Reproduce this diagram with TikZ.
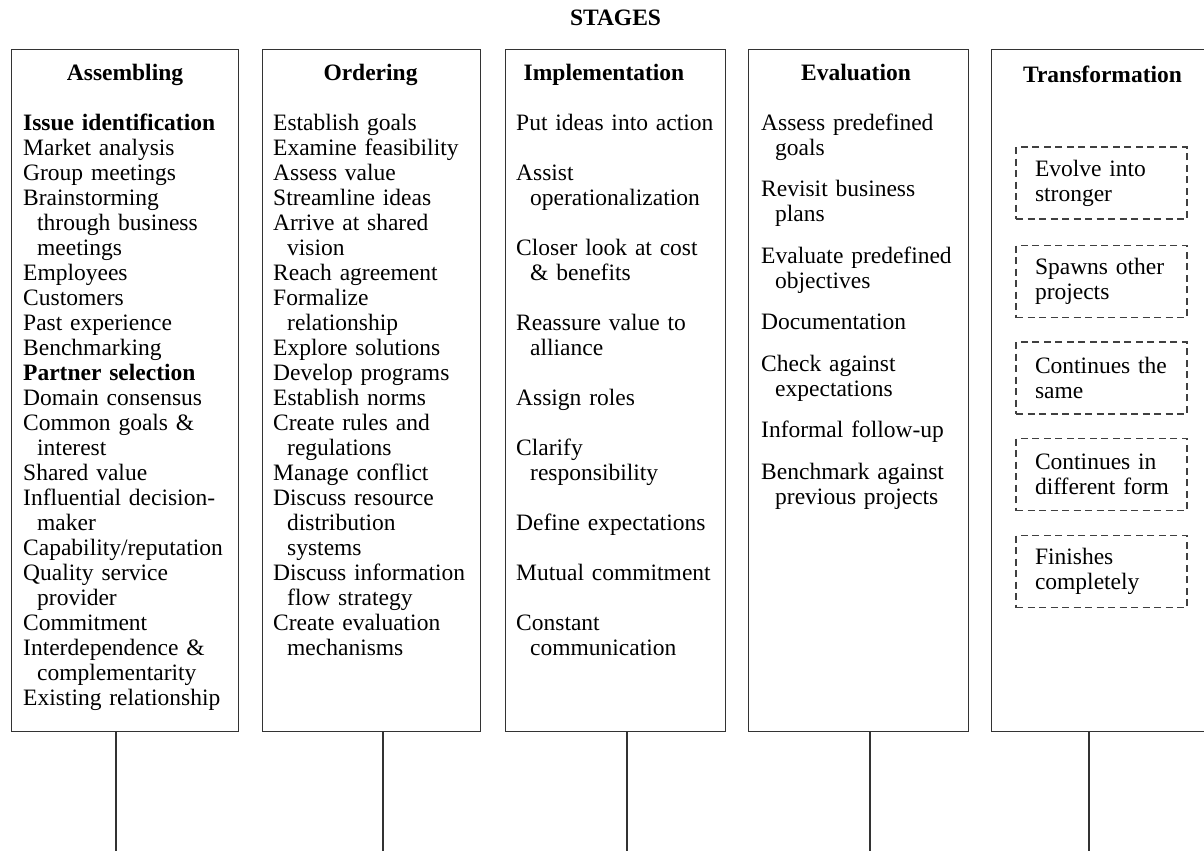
\documentclass[tikz,border=0pt]{standalone}
\usepackage{fontspec}
\setmainfont{Liberation Serif}
\usetikzlibrary{positioning}

\tikzset{
  stagebox/.style={draw=black!80, line width=1.4pt, inner sep=0pt, anchor=north west},
  stagehead/.style={font=\fontsize{23.5}{25}\selectfont\bfseries, anchor=base, inner sep=0pt},
  stagelist/.style={font=\fontsize{23.5}{25}\selectfont, anchor=base west, align=left,
    inner sep=0pt, text width=#1},
  outcome/.style={draw=black!75, line width=1.3pt, dash pattern=on 7pt off 4.5pt,
    font=\fontsize{23.5}{25}\selectfont, align=left, text width=133pt,
    inner xsep=19pt, inner ysep=0pt, minimum height=72pt},
  stem/.style={draw=black!80, line width=1.4pt}
}
\newcommand{\subind}{\hspace*{14pt}}

\begin{document}
\begin{tikzpicture}[x=1pt,y=-1pt]
\clip (0,0) rectangle (1204,851);

% Title
\node[stagehead] (title) at (615.5,26) {STAGES};

% Stage frames
\node[stagebox, minimum width=227pt, minimum height=682pt] (assembling) at (11,49) {};
\node[stagebox, minimum width=218pt, minimum height=682pt] (ordering) at (262,49) {};
\node[stagebox, minimum width=220pt, minimum height=682pt] (implementation) at (505,49) {};
\node[stagebox, minimum width=220pt, minimum height=682pt] (evaluation) at (748,49) {};
\node[stagebox, minimum width=230pt, minimum height=682pt] (transformation) at (991,49) {};

% Headings
\node[stagehead] (h1) at (125,81) {Assembling};
\node[stagehead] (h2) at (370.5,81) {Ordering};
\node[stagehead] (h3) at (604,81) {Implementation};
\node[stagehead] (h4) at (856,81) {Evaluation};
\node[stagehead] (h5) at (1102.5,82) {Transformation};

% Assembling
\node[stagelist=212pt] (list1) at (23,130) {\textbf{Issue identification}\\
Market analysis\\
Group meetings\\
Brainstorming\\
\subind through business\\
\subind meetings\\
Employees\\
Customers\\
Past experience\\
Benchmarking\\
\textbf{Partner selection}\\
Domain consensus\\
Common goals \&\\
\subind interest\\
Shared value\\
Influential decision-\\
\subind maker\\
Capability/reputation\\
Quality service\\
\subind provider\\
Commitment\\
Interdependence \&\\
\subind complementarity\\
Existing relationship};

% Ordering
\node[stagelist=205pt] (list2) at (273,130) {Establish goals\\
Examine feasibility\\
Assess value\\
Streamline ideas\\
Arrive at shared\\
\subind vision\\
Reach agreement\\
Formalize\\
\subind relationship\\
Explore solutions\\
Develop programs\\
Establish norms\\
Create rules and\\
\subind regulations\\
Manage conflict\\
Discuss resource\\
\subind distribution\\
\subind systems\\
Discuss information\\
\subind flow strategy\\
Create evaluation\\
\subind mechanisms};

% Implementation
\node[stagelist=208pt] (list3) at (516,130) {Put ideas into action\\[25pt]
Assist\\
\subind operationalization\\[25pt]
Closer look at cost\\
\subind \& benefits\\[25pt]
Reassure value to\\
\subind alliance\\[25pt]
Assign roles\\[25pt]
Clarify\\
\subind responsibility\\[25pt]
Define expectations\\[25pt]
Mutual commitment\\[25pt]
Constant\\
\subind communication};

% Evaluation
\node[stagelist=205pt] (list4) at (761,130) {Assess predefined\\
\subind goals\\[16.5pt]
Revisit business\\
\subind plans\\[16.5pt]
Evaluate predefined\\
\subind objectives\\[16.5pt]
Documentation\\[16.5pt]
Check against\\
\subind expectations\\[16.5pt]
Informal follow-up\\[16.5pt]
Benchmark against\\
\subind previous projects};

% Transformation outcomes
\node[outcome] (evolve) at (1101.5,183) {Evolve into\\stronger};
\node[outcome] (spawn) at (1101.5,281.5) {Spawns other\\projects};
\node[outcome] (same) at (1101.5,378) {Continues the\\same};
\node[outcome] (form) at (1101.5,474.5) {Continues in\\\mbox{different form}};
\node[outcome] (finish) at (1101.5,571.5) {Finishes\\completely};

% Stems below the frames
\coordinate (end1) at (116,851);
\coordinate (end2) at (383,851);
\coordinate (end3) at (627,851);
\coordinate (end4) at (870,851);
\coordinate (end5) at (1089,851);
\draw[stem] (assembling.south -| end1) -- (end1);
\draw[stem] (ordering.south -| end2) -- (end2);
\draw[stem] (implementation.south -| end3) -- (end3);
\draw[stem] (evaluation.south -| end4) -- (end4);
\draw[stem] (transformation.south -| end5) -- (end5);
\end{tikzpicture}
\end{document}
